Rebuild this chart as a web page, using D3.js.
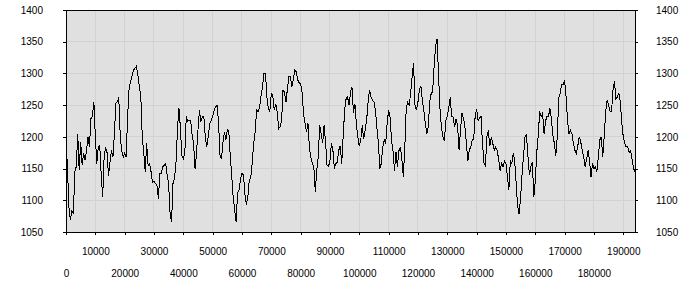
<!DOCTYPE html>
<html>
<head>
<meta charset="utf-8">
<script src="https://cdn.jsdelivr.net/npm/d3@7"></script>
<style>
  body { margin: 0; background: #fff; }
  text { font-family: "Liberation Sans", Arial, sans-serif; font-size: 10px; fill: #000; }
</style>
</head>
<body>
<div id="container"></div>
<script>

// series sampled every 500 units along x
var step = 500;
var values = [
  1200,1150,1089,1069,1084,1078,1145,1153,1204,1147,
  1192,1155,1175,1163,1179,1200,1184,1229,1232,1255,
  1200,1158,1184,1187,1140,1105,1168,1184,1175,1139,
  1160,1179,1168,1205,1253,1255,1262,1200,1179,1168,
  1174,1168,1230,1276,1287,1296,1305,1308,1311,1298,
  1279,1265,1200,1176,1145,1190,1155,1158,1145,1128,
  1130,1126,1124,1102,1142,1142,1153,1155,1158,1140,
  1125,1078,1066,1128,1134,1160,1211,1246,1215,1170,
  1166,1174,1232,1225,1226,1225,1203,1190,1150,1174,
  1211,1242,1224,1232,1232,1200,1184,1200,1221,1226,
  1232,1242,1247,1250,1224,1172,1165,1190,1208,1195,
  1211,1210,1170,1140,1105,1085,1066,1112,1116,1134,
  1142,1140,1110,1093,1105,1132,1135,1160,1190,1208,
  1242,1240,1247,1265,1279,1300,1300,1263,1245,1240,
  1268,1265,1242,1252,1240,1213,1216,1225,1274,1270,
  1255,1276,1295,1295,1279,1290,1305,1303,1290,1285,
  1284,1270,1235,1222,1208,1221,1182,1168,1158,1153,
  1113,1148,1168,1218,1205,1190,1218,1192,1155,1153,
  1163,1190,1179,1150,1158,1160,1179,1186,1158,1200,
  1242,1260,1263,1250,1270,1279,1238,1252,1220,1200,
  1185,1195,1218,1197,1211,1226,1255,1274,1263,1258,
  1255,1242,1215,1190,1150,1158,1184,1195,1190,1222,
  1242,1230,1195,1177,1147,1176,1153,1178,1184,1165,
  1137,1180,1245,1255,1250,1268,1295,1316,1250,1242,
  1255,1274,1280,1258,1242,1222,1205,1215,1255,1268,
  1271,1310,1342,1354,1300,1245,1215,1200,1193,1225,
  1232,1245,1262,1232,1231,1216,1228,1218,1180,1210,
  1237,1230,1217,1190,1162,1179,1184,1195,1197,1232,
  1244,1226,1230,1232,1190,1159,1155,1200,1210,1185,
  1200,1190,1179,1184,1179,1165,1147,1158,1153,1162,
  1158,1137,1116,1163,1158,1175,1160,1125,1090,1078,
  1105,1142,1170,1200,1203,1170,1140,1153,1160,1105,
  1130,1175,1202,1240,1232,1237,1205,1225,1232,1232,
  1245,1228,1202,1190,1170,1200,1262,1268,1283,1282,
  1290,1263,1225,1205,1210,1205,1190,1179,1174,1186,
  1200,1192,1179,1168,1153,1165,1179,1163,1137,1158,
  1150,1153,1145,1168,1195,1200,1168,1200,1240,1258,
  1250,1240,1240,1274,1288,1260,1263,1269,1255,1222,
  1200,1190,1184,1185,1175,1178,1165,1150,1145
];

var xTicks = [0,10000,20000,30000,40000,50000,60000,70000,80000,90000,
              100000,110000,120000,130000,140000,150000,160000,170000,180000,190000];
var yTicks = [1050,1100,1150,1200,1250,1300,1350,1400];

var width = 700, height = 300;
var plotLeft = 66, plotRight = 635, plotTop = 10, plotBottom = 232;

var svg = d3.select("#container").append("svg")
    .attr("width", width)
    .attr("height", height);

var x = d3.scaleLinear()
    .domain([0, (values.length - 1) * step])
    .range([plotLeft, plotRight]);
var y = d3.scaleLinear()
    .domain([1050, 1400])
    .range([plotBottom, plotTop]);

// plot background
svg.append("rect")
    .attr("x", plotLeft).attr("y", plotTop)
    .attr("width", plotRight - plotLeft).attr("height", plotBottom - plotTop)
    .attr("fill", "#e0e0e0");

// grid
var grid = svg.append("g").attr("shape-rendering", "crispEdges").attr("stroke", "#d2d2d2");
grid.selectAll(".vx").data(xTicks.slice(1)).enter().append("line")
    .attr("x1", function(d) { return x(d); }).attr("x2", function(d) { return x(d); })
    .attr("y1", plotTop).attr("y2", plotBottom);
grid.selectAll(".hy").data(yTicks.slice(1, -1)).enter().append("line")
    .attr("x1", plotLeft).attr("x2", plotRight)
    .attr("y1", function(d) { return y(d); }).attr("y2", function(d) { return y(d); });

// the series
var line = d3.line()
    .x(function(d, i) { return x(i * step); })
    .y(function(d) { return y(d); });

svg.append("path")
    .datum(values)
    .attr("fill", "none")
    .attr("stroke", "#000")
    .attr("stroke-width", 1)
    .attr("shape-rendering", "crispEdges")
    .attr("d", line);

// axes
var xAxis = svg.append("g")
    .attr("transform", "translate(0," + plotBottom + ")")
    .call(d3.axisBottom(x).tickValues(xTicks).tickSize(3).tickSizeOuter(0).tickFormat(d3.format("d")));
xAxis.selectAll("text")
    .attr("y", function(d) { return (d / 10000) % 2 ? 16 : 38; });

svg.append("g")
    .attr("transform", "translate(" + plotLeft + ",0)")
    .call(d3.axisLeft(y).tickValues(yTicks).tickSize(3).tickSizeOuter(0).tickPadding(20).tickFormat(d3.format("d")));

svg.append("g")
    .attr("transform", "translate(" + plotRight + ",0)")
    .call(d3.axisRight(y).tickValues(yTicks).tickSize(3).tickSizeOuter(0).tickPadding(18).tickFormat(d3.format("d")));

svg.selectAll(".domain, .tick line").attr("shape-rendering", "crispEdges").attr("stroke", "#000");
svg.selectAll(".tick text").style("font-family", "'Liberation Sans', Arial, sans-serif").style("font-size", "10px").attr("fill", "#000");

// top border
svg.append("line")
    .attr("x1", plotLeft).attr("x2", plotRight)
    .attr("y1", plotTop).attr("y2", plotTop)
    .attr("stroke", "#000")
    .attr("shape-rendering", "crispEdges");

</script>
</body>
</html>
